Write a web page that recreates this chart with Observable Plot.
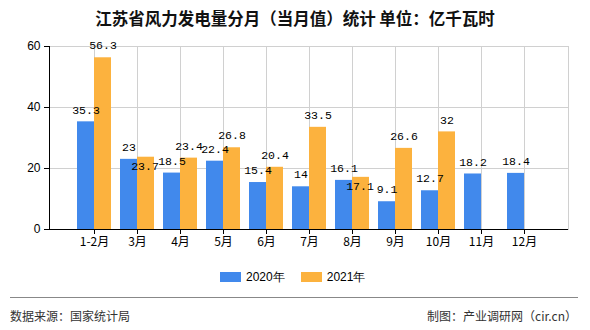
<!DOCTYPE html>
<html><head><meta charset="utf-8">
<script src="https://cdn.jsdelivr.net/npm/d3@7"></script>
<script src="https://cdn.jsdelivr.net/npm/@observablehq/plot@0.6"></script>
<style>
html,body{margin:0;padding:0;background:#fff}
body{width:590px;height:330px;position:relative;overflow:hidden;font-family:"Noto Sans CJK SC",sans-serif}
#chart{position:absolute;left:0;top:0}
.title{position:absolute;top:8px;left:0;width:590px;text-align:center;font-size:16.5px;font-weight:600;color:#111;line-height:20px}
.legend{position:absolute;top:268px;left:220px;display:flex;align-items:center;font-family:"Liberation Sans",sans-serif;font-size:12px;color:#000;line-height:18px}
.legend .item{display:flex;align-items:center;margin-right:16px}
.legend .sw{width:21px;height:10px;margin-right:5px}
.rule{position:absolute;left:10px;top:297px;width:568px;height:0;border-top:1.5px solid #888}
.src{position:absolute;top:307px;font-size:12px;color:#333;line-height:18px}
</style></head>
<body>
<div class="title">江苏省风力发电量分月（当月值）统计 单位：亿千瓦时</div>
<div id="chart"></div>
<div class="legend" id="legend"></div>
<div class="rule"></div>
<div class="src" style="left:10px">数据来源：国家统计局</div>
<div class="src" style="right:13px">制图：产业调研网（cir.cn）</div>
<script>
const months = ["1-2月","3月","4月","5月","6月","7月","8月","9月","10月","11月","12月"];
const values2020 = [35.3,23,18.5,22.4,15.4,14,16.1,9.1,12.7,18.2,18.4];
const values2021 = [56.3,23.7,23.4,26.8,20.4,33.5,17.1,26.6,32,null,null];
const yTicks = [0,20,40,60];
const seriesNames = ["2020年","2021年"];
const seriesColors = ["#4189EC","#FCB23E"];

const rowsA = months.map((m,i)=>({m, v: values2020[i]})).filter(d=>d.v!=null);
const rowsB = months.map((m,i)=>({m, v: values2021[i], other: values2020[i]})).filter(d=>d.v!=null);
const crowded = d => Math.abs(d.v - d.other) < 2;

const labelFont = {fontFamily:"Liberation Mono", fontSize:11.5, fill:"#000"};
const plot = Plot.plot({
  width:590, height:330,
  marginTop:46, marginRight:22, marginBottom:101, marginLeft:49,
  style:{background:"transparent", color:"#000", overflow:"visible"},
  x:{domain:months, paddingInner:0.214, paddingOuter:0.607, axis:null},
  y:{domain:[0,60], axis:null},
  marks:[
    Plot.gridX(months, {stroke:"#d0d0d0", strokeOpacity:1}),
    Plot.gridY(yTicks, {stroke:"#d0d0d0", strokeOpacity:1}),
    Plot.frame({stroke:"#d0d0d0"}),
    Plot.barY(rowsA, {x:"m", y:"v", fill:seriesColors[0], insetRight:17}),
    Plot.barY(rowsB, {x:"m", y:"v", fill:seriesColors[1], insetLeft:17}),
    Plot.text(rowsA, {x:"m", y:"v", text:d=>String(d.v), dx:-8.5, dy:-12, ...labelFont}),
    Plot.text(rowsB.filter(d=>!crowded(d)), {x:"m", y:"v", text:d=>String(d.v), dx:8.5, dy:-12, ...labelFont}),
    Plot.text(rowsB.filter(crowded), {x:"m", y:"v", text:d=>String(d.v), dx:7.5, dy:9, ...labelFont}),
    Plot.ruleY([0], {stroke:"#000"}),
    Plot.frame({anchor:"left", stroke:"#000"}),
    Plot.axisY(yTicks, {tickSize:5, tickPadding:4, fontSize:12, fontFamily:"Liberation Sans", label:null}),
    Plot.axisX(months, {tickSize:5, tickPadding:3, fontSize:12, fontFamily:"Noto Sans CJK SC", label:null})
  ]
});
document.getElementById("chart").appendChild(plot);

const legend = document.getElementById("legend");
seriesNames.forEach((n,i)=>{
  const it = document.createElement("div"); it.className="item";
  const sw = document.createElement("span"); sw.className="sw"; sw.style.background=seriesColors[i];
  const t = document.createElement("span"); t.textContent=n;
  it.appendChild(sw); it.appendChild(t); legend.appendChild(it);
});
</script>
</body></html>
